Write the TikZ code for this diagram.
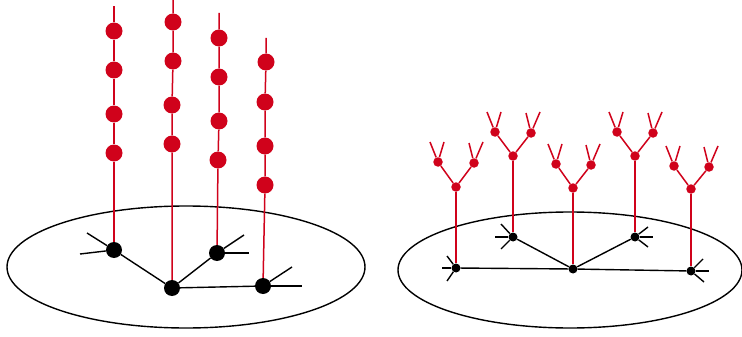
\documentclass[tikz,border=0pt]{standalone}
\definecolor{dotred}{RGB}{208,2,27}

\begin{document}
\begin{tikzpicture}[
		x=1pt, y=-1pt,
		disc/.style={draw, line width=1.4pt},
		bigdot/.style={circle, fill=black, inner sep=0pt, minimum size=16pt},
		smalldot/.style={circle, fill=black, inner sep=0pt, minimum size=9pt},
		bigred/.style={circle, fill=dotred, inner sep=0pt, minimum size=17pt},
		smallred/.style={circle, fill=dotred, inner sep=0pt, minimum size=9.5pt},
		bline/.style={line width=1.4pt},
		rline/.style={draw=dotred, line width=1.5pt},
	]
	\useasboundingbox (0,0) rectangle (742,337);

	% Discs
	\draw[disc] (186,267) ellipse [x radius=179, y radius=61];
	\draw[disc] (570,270) ellipse [x radius=172, y radius=58];

	% Left tree (black)
	\node[bigdot] (l1) at (114,250) {};
	\node[bigdot] (l2) at (172,288) {};
	\node[bigdot] (l3) at (217,253) {};
	\node[bigdot] (l4) at (263,286) {};

	\coordinate (l1a) at (87,233);
	\coordinate (l1b) at (80,254);
	\coordinate (l3a) at (244,235);
	\coordinate (l3b) at (249,253);
	\coordinate (l4a) at (292,267);
	\coordinate (l4b) at (302,286);

	% Left red strands
	\node[bigred] (l1s1) at (114,153) {};
	\node[bigred] (l1s2) at (114,114) {};
	\node[bigred] (l1s3) at (114,70) {};
	\node[bigred] (l1s4) at (114,31) {};
	\coordinate (l1top) at (114,6);

	\node[bigred] (l2s1) at (172,144) {};
	\node[bigred] (l2s2) at (172,105) {};
	\node[bigred] (l2s3) at (173,61) {};
	\node[bigred] (l2s4) at (173,22) {};
	\coordinate (l2top) at (173,0);

	\node[bigred] (l3s1) at (218,160) {};
	\node[bigred] (l3s2) at (219,121) {};
	\node[bigred] (l3s3) at (219,77) {};
	\node[bigred] (l3s4) at (219,38) {};
	\coordinate (l3top) at (219,13);

	\node[bigred] (l4s1) at (265,185) {};
	\node[bigred] (l4s2) at (265,146) {};
	\node[bigred] (l4s3) at (265,102) {};
	\node[bigred] (l4s4) at (266,62) {};
	\coordinate (l4top) at (266,38);

	\draw[rline] (l1) -- (l1s1) -- (l1s2) -- (l1s3) -- (l1s4) -- (l1top);
	\draw[rline] (l2) -- (l2s1) -- (l2s2) -- (l2s3) -- (l2s4) -- (l2top);
	\draw[rline] (l3) -- (l3s1) -- (l3s2) -- (l3s3) -- (l3s4) -- (l3top);
	\draw[rline] (l4) -- (l4s1) -- (l4s2) -- (l4s3) -- (l4s4) -- (l4top);

	\draw[bline] (l1) -- (l2);
	\draw[bline] (l2) -- (l3);
	\draw[bline] (l2) -- (l4);
	\draw[bline] (l1) -- (l1a);
	\draw[bline] (l1) -- (l1b);
	\draw[bline] (l3) -- (l3a);
	\draw[bline] (l3) -- (l3b);
	\draw[bline] (l4) -- (l4a);
	\draw[bline] (l4) -- (l4b);

	% Right tree (black)
	\node[smalldot] (r1) at (456,268) {};
	\node[smalldot] (r2) at (513,237) {};
	\node[smalldot] (r3) at (573,269) {};
	\node[smalldot] (r4) at (635,237) {};
	\node[smalldot] (r5) at (691,271) {};

	\coordinate (r1a) at (442,268);
	\coordinate (r1b) at (447,256);
	\coordinate (r1c) at (447,281);
	\coordinate (r2a) at (495,237);
	\coordinate (r2b) at (501,224);
	\coordinate (r2c) at (501,249);
	\coordinate (r4a) at (653,237);
	\coordinate (r4b) at (648,227);
	\coordinate (r4c) at (648,247);
	\coordinate (r5a) at (709,271);
	\coordinate (r5b) at (703,259);
	\coordinate (r5c) at (704,282);

	\draw[bline] (r1) -- (r3);
	\draw[bline] (r3) -- (r5);
	\draw[bline] (r3) -- (r2);
	\draw[bline] (r3) -- (r4);
	\draw[bline] (r1) -- (r1a);
	\draw[bline] (r1) -- (r1b);
	\draw[bline] (r1) -- (r1c);
	\draw[bline] (r2) -- (r2a);
	\draw[bline] (r2) -- (r2b);
	\draw[bline] (r2) -- (r2c);
	\draw[bline] (r4) -- (r4a);
	\draw[bline] (r4) -- (r4b);
	\draw[bline] (r4) -- (r4c);
	\draw[bline] (r5) -- (r5a);
	\draw[bline] (r5) -- (r5b);
	\draw[bline] (r5) -- (r5c);

	% Right red trees
	\node[smallred] (t1)  at (456,187) {};
	\node[smallred] (t1l) at (438,162) {};
	\node[smallred] (t1r) at (474,163) {};
	\node[smallred] (t2)  at (513,156) {};
	\node[smallred] (t2l) at (495,132) {};
	\node[smallred] (t2r) at (531,133) {};
	\node[smallred] (t3)  at (573,188) {};
	\node[smallred] (t3l) at (556,164) {};
	\node[smallred] (t3r) at (591,165) {};
	\node[smallred] (t4)  at (635,156) {};
	\node[smallred] (t4l) at (617,132) {};
	\node[smallred] (t4r) at (653,133) {};
	\node[smallred] (t5)  at (691,189) {};
	\node[smallred] (t5l) at (674,166) {};
	\node[smallred] (t5r) at (709,167) {};

	\coordinate (t1la) at (430,142); \coordinate (t1lb) at (444,142);
	\coordinate (t1ra) at (469,143); \coordinate (t1rb) at (483,142);
	\coordinate (t2la) at (487,112); \coordinate (t2lb) at (501,112);
	\coordinate (t2ra) at (526,113); \coordinate (t2rb) at (540,112);
	\coordinate (t3la) at (548,144); \coordinate (t3lb) at (562,144);
	\coordinate (t3ra) at (586,145); \coordinate (t3rb) at (600,144);
	\coordinate (t4la) at (609,112); \coordinate (t4lb) at (623,112);
	\coordinate (t4ra) at (648,113); \coordinate (t4rb) at (662,112);
	\coordinate (t5la) at (666,146); \coordinate (t5lb) at (680,146);
	\coordinate (t5ra) at (704,147); \coordinate (t5rb) at (718,146);

	\draw[rline] (r1) -- (t1);
	\draw[rline] (r2) -- (t2);
	\draw[rline] (r3) -- (t3);
	\draw[rline] (r4) -- (t4);
	\draw[rline] (r5) -- (t5);

	\draw[rline] (t1) -- (t1l); \draw[rline] (t1) -- (t1r);
	\draw[rline] (t2) -- (t2l); \draw[rline] (t2) -- (t2r);
	\draw[rline] (t3) -- (t3l); \draw[rline] (t3) -- (t3r);
	\draw[rline] (t4) -- (t4l); \draw[rline] (t4) -- (t4r);
	\draw[rline] (t5) -- (t5l); \draw[rline] (t5) -- (t5r);

	\draw[rline] (t1l) -- (t1la); \draw[rline] (t1l) -- (t1lb);
	\draw[rline] (t1r) -- (t1ra); \draw[rline] (t1r) -- (t1rb);
	\draw[rline] (t2l) -- (t2la); \draw[rline] (t2l) -- (t2lb);
	\draw[rline] (t2r) -- (t2ra); \draw[rline] (t2r) -- (t2rb);
	\draw[rline] (t3l) -- (t3la); \draw[rline] (t3l) -- (t3lb);
	\draw[rline] (t3r) -- (t3ra); \draw[rline] (t3r) -- (t3rb);
	\draw[rline] (t4l) -- (t4la); \draw[rline] (t4l) -- (t4lb);
	\draw[rline] (t4r) -- (t4ra); \draw[rline] (t4r) -- (t4rb);
	\draw[rline] (t5l) -- (t5la); \draw[rline] (t5l) -- (t5lb);
	\draw[rline] (t5r) -- (t5ra); \draw[rline] (t5r) -- (t5rb);

\end{tikzpicture}
\end{document}
